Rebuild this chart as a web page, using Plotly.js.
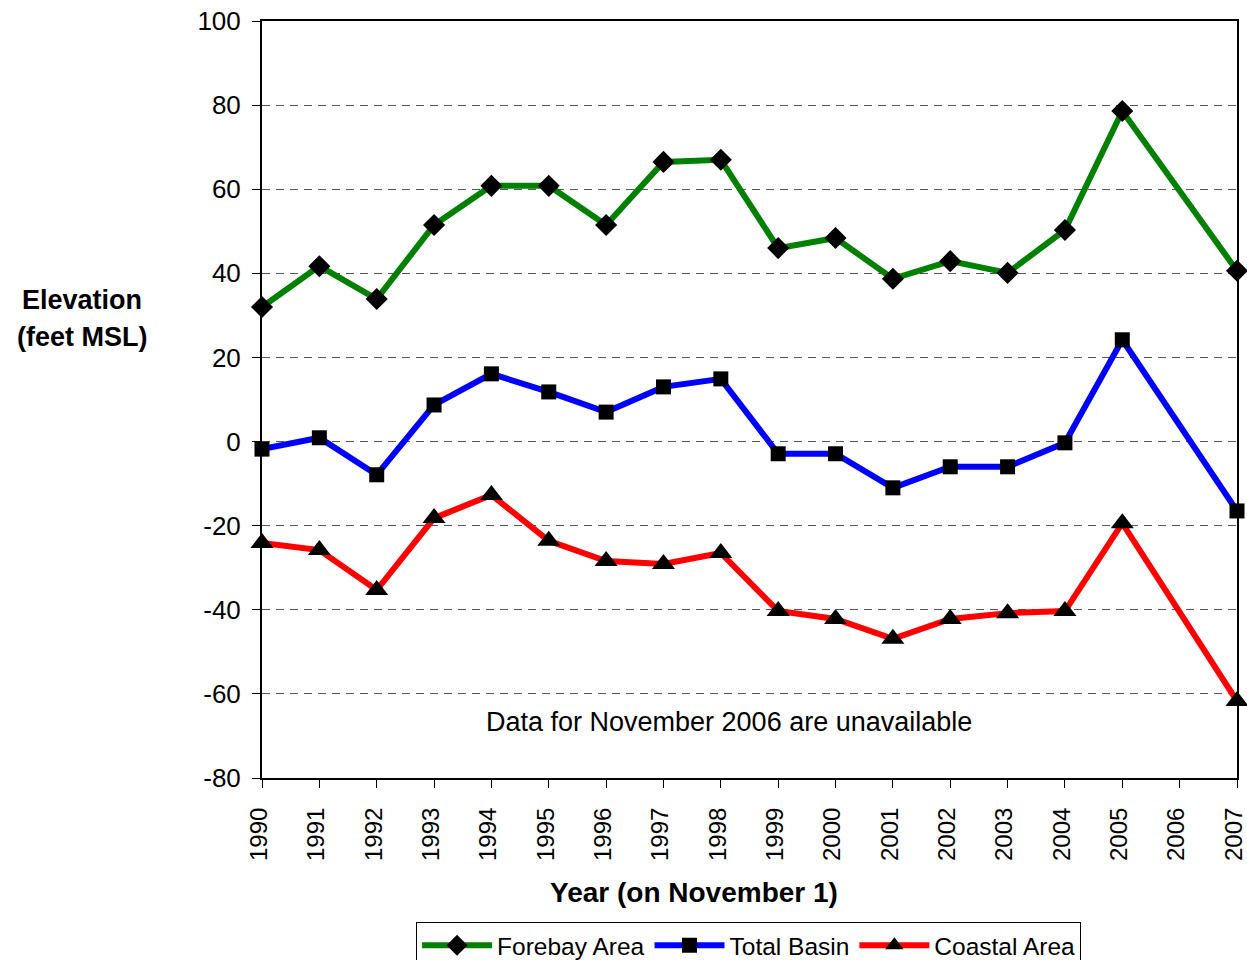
<!DOCTYPE html>
<html>
<head>
<meta charset="utf-8">
<script src="https://cdn.plot.ly/plotly-3.0.1.min.js"></script>
<style>html,body{margin:0;padding:0;background:#fff;}#chart{width:1247px;height:960px;}</style>
</head>
<body>
<div id="chart"></div>
<script>
const years = [1990,1991,1992,1993,1994,1995,1996,1997,1998,1999,2000,2001,2002,2003,2004,2005,2006,2007];
const forebay = [32.0,41.7,33.9,51.5,60.8,60.8,51.5,66.5,67.0,46.0,48.4,38.7,42.9,40.1,50.3,78.6,null,40.6];
const totalBasin = [-1.8,0.9,-7.9,8.7,16.1,11.8,7.0,13.0,14.9,-2.9,-2.9,-11.0,-6.0,-6.0,-0.3,24.2,null,-16.5];
const coastal = [-24.1,-25.8,-35.3,-18.2,-12.7,-23.6,-28.4,-29.1,-26.5,-40.3,-42.2,-46.9,-42.2,-40.8,-40.3,-19.4,null,-61.7];
const yTicks = [-80,-60,-40,-20,0,20,40,60,80,100];
const yTickText = yTicks.map(v => String(v));
const seriesNames = ['Forebay Area','Total Basin','Coastal Area'];

const font = 'Liberation Sans, Arial, sans-serif';
function tr(y, name, color, symbol, size) {
  return {
    x: years, y: y, name: name, type: 'scatter', mode: 'lines+markers',
    connectgaps: true, cliponaxis: false,
    line: {color: color, width: 6},
    marker: {color: '#000', symbol: symbol, size: size}
  };
}
const data = [
  tr(forebay, seriesNames[0], '#008000', 'diamond', 17),
  tr(totalBasin, seriesNames[1], '#0000FF', 'square', 15),
  tr(coastal, seriesNames[2], '#FF0000', 'triangle-up', 20)
];
const layout = {
  width: 1247, height: 960,
  margin: {l: 262, r: 10, t: 21, b: 182, autoexpand: false},
  paper_bgcolor: '#fff', plot_bgcolor: '#fff',
  font: {family: font, color: '#000', size: 25},
  showlegend: true,
  legend: {
    orientation: 'h', x: 0.158, xanchor: 'left', y: -0.190, yanchor: 'top',
    bordercolor: '#000', borderwidth: 1, bgcolor: '#fff',
    font: {family: font, size: 24.5}, itemwidth: 70, tracegroupgap: 0,
    itemclick: false
  },
  xaxis: {
    range: [1990, 2007], tickvals: years, ticktext: years.map(String),
    tickangle: -90, ticks: 'outside', ticklen: 8, tickcolor: '#000',
    showline: true, linecolor: '#000', linewidth: 2, mirror: true,
    showgrid: false, zeroline: false, tickfont: {size: 24},
    automargin: false, ticklabeloverflow: 'allow', ticklabelstandoff: 10,
    ticklabelshift: -3
  },
  yaxis: {
    range: [-80, 100], tickvals: yTicks, ticktext: yTickText,
    ticks: 'outside', ticklen: 8, tickcolor: '#000',
    showline: true, linecolor: '#000', linewidth: 2, mirror: true,
    showgrid: true, gridcolor: '#555', griddash: '8px,6px', gridwidth: 1,
    zeroline: false, tickfont: {size: 26}, ticklabelstandoff: 6,
    automargin: false, ticklabeloverflow: 'allow'
  },
  annotations: [
    {text: '<b>Elevation</b>', xref: 'paper', yref: 'paper',
     x: -0.1846, y: 0.6314, xanchor: 'center', yanchor: 'middle', showarrow: false,
     font: {size: 27, family: font}},
    {text: '<b>(feet MSL)</b>', xref: 'paper', yref: 'paper',
     x: -0.1846, y: 0.5826, xanchor: 'center', yanchor: 'middle', showarrow: false,
     font: {size: 27, family: font}},
    {text: '<b>Year (on November 1)</b>', xref: 'paper', yref: 'paper',
     x: 0.443, y: -0.1506, xanchor: 'center', yanchor: 'middle', showarrow: false,
     font: {size: 28, family: font}},
    {text: 'Data for November 2006 are unavailable', xref: 'paper', yref: 'paper',
     x: 0.479, y: 0.074, xanchor: 'center', yanchor: 'middle', showarrow: false,
     font: {size: 27, family: font}}
  ]
};
Plotly.newPlot('chart', data, layout, {displayModeBar: false, staticPlot: true});
</script>
</body>
</html>
